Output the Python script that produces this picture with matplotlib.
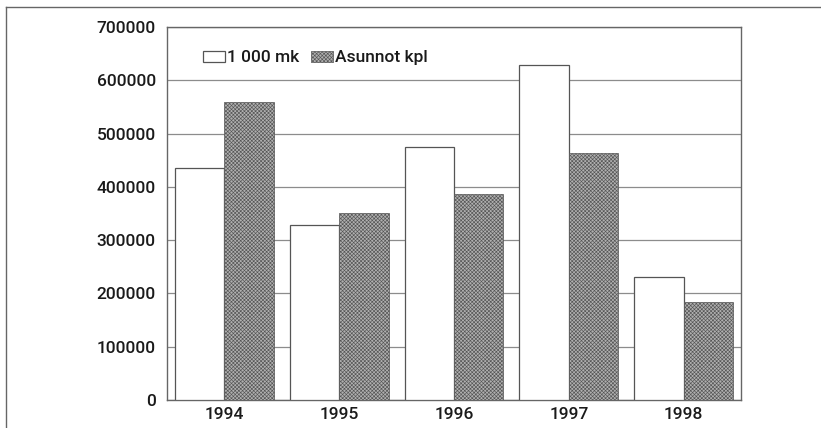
import numpy as np
import matplotlib
matplotlib.use('Agg')
import matplotlib.pyplot as plt
from matplotlib.lines import Line2D

plt.rcParams['font.family'] = ['Roboto', 'DejaVu Sans']
plt.rcParams['font.weight'] = 'medium'
plt.rcParams['hatch.color'] = '#555555'
plt.rcParams['hatch.linewidth'] = 0.45

years = ['1994', '1995', '1996', '1997', '1998']
mk = [435000, 329000, 474000, 629000, 231000]          # 1 000 mk
asunnot = [560000, 351000, 386000, 463000, 183000]     # Asunnot kpl
yticks = np.arange(0, 700001, 100000)

fig = plt.figure(figsize=(8.21, 4.28), dpi=100)
ax = fig.add_axes([0.2034, 0.0654, 0.6992, 0.8715])

x = np.arange(len(years))
w = 0.43
ax.bar(x - w / 2, mk, w, facecolor='white', edgecolor='#555555',
       linewidth=0.9, label='1 000 mk', zorder=3)
ax.bar(x + w / 2, asunnot, w, facecolor='#b0b0b0', edgecolor='#555555',
       linewidth=0.5, hatch='xxxxxxxxx', label='Asunnot kpl', zorder=3)

ax.set_xlim(-0.5, len(years) - 0.5)
ax.set_ylim(0, 700000)
ax.set_yticks(yticks)
ax.set_yticklabels([str(v) for v in yticks])
ax.set_xticks(x)
ax.set_xticklabels(years)
ax.yaxis.grid(True, color='#8c8c8c', linewidth=0.9, zorder=0)
ax.set_axisbelow(True)
ax.tick_params(axis='both', length=0, labelsize=12.5, colors='#1a1a1a')
ax.tick_params(axis='y', pad=8)
ax.tick_params(axis='x', pad=5)
for s in ax.spines.values():
    s.set_color('#666666')
    s.set_linewidth(1.0)

leg = ax.legend(loc='center left', bbox_to_anchor=(0.063, 0.917), ncol=2,
                frameon=False, fontsize=12.5, handlelength=1.25, handleheight=0.62,
                handletextpad=0.12, columnspacing=0.7, borderpad=0, borderaxespad=0)
for t in leg.get_texts():
    t.set_color('#1a1a1a')

# outer frame (only top and left edges visible in the crop)
fig.add_artist(Line2D([6 / 821, 6 / 821], [0, 1 - 7 / 428], color='#666666',
                      linewidth=1.0, transform=fig.transFigure))
fig.add_artist(Line2D([6 / 821, 1], [1 - 7 / 428, 1 - 7 / 428], color='#666666',
                      linewidth=1.0, transform=fig.transFigure))

fig.savefig('out.png', dpi=100)
